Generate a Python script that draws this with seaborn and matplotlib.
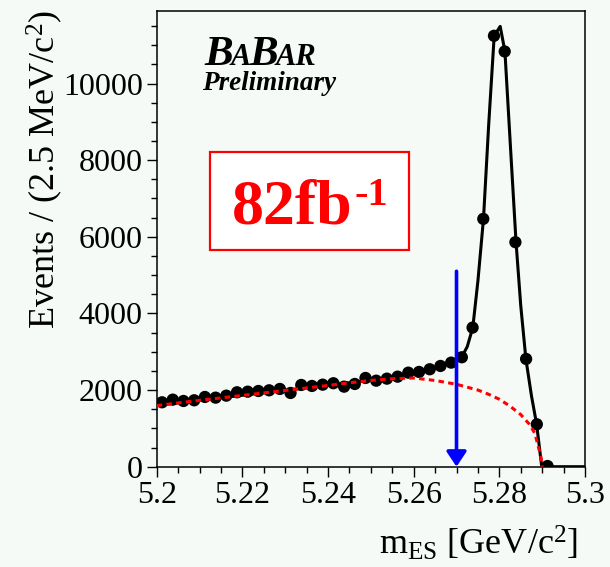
import matplotlib
matplotlib.use("Agg")
import matplotlib.pyplot as plt
from matplotlib.patches import Rectangle, ArrowStyle
from matplotlib.ticker import MultipleLocator
import pandas as pd
import seaborn as sns

# ---------------- data ----------------
bin_centers = [5.20125, 5.20375, 5.20625, 5.20875, 5.21125, 5.21375, 5.21625, 5.21875,
               5.22125, 5.22375, 5.22625, 5.22875, 5.23125, 5.23375, 5.23625, 5.23875,
               5.24125, 5.24375, 5.24625, 5.24875, 5.25125, 5.25375, 5.25625, 5.25875,
               5.26125, 5.26375, 5.26625, 5.26875, 5.27125, 5.27375, 5.27625, 5.27875,
               5.28125, 5.28375, 5.28625, 5.28875, 5.29125]
events = [1681, 1750, 1715, 1733, 1820, 1802, 1854, 1942,
          1958, 1976, 1994, 2029, 1924, 2133, 2107, 2141,
          2178, 2089, 2159, 2316, 2245, 2298, 2350, 2454,
          2473, 2543, 2629, 2716, 2856, 3630, 6467, 11245,
          10836, 5859, 2812, 1107, 18]

fit_x = [5.2000, 5.2100, 5.2200, 5.2300, 5.2400, 5.2500, 5.2550, 5.2600, 5.2625,
         5.2650, 5.2675, 5.2700, 5.2712, 5.2725, 5.2738, 5.2750, 5.2763, 5.2775,
         5.2788, 5.2802, 5.2813, 5.2826, 5.2839, 5.2850, 5.2862, 5.2875, 5.2887,
         5.2899, 5.3000]
fit_y = [1600, 1735, 1865, 1995, 2125, 2260, 2320, 2420, 2490,
         2580, 2670, 2790, 2860, 3130, 3630, 4850, 6470, 8900,
         11245, 11490, 10840, 8340, 5860, 4200, 2810, 1850, 1110,
         0, 0]

bkg_x = [5.2000, 5.2050, 5.2100, 5.2150, 5.2200, 5.2250, 5.2300, 5.2350, 5.2400,
         5.2450, 5.2500, 5.2550, 5.2600, 5.2650, 5.2700, 5.2725, 5.2750, 5.2775,
         5.2800, 5.2825, 5.2850, 5.2870, 5.2883, 5.2891, 5.2897, 5.2900]
bkg_y = [1595, 1665, 1730, 1795, 1860, 1925, 1990, 2055, 2120,
         2190, 2250, 2295, 2315, 2250, 2150, 2075, 2000, 1890,
         1760, 1580, 1360, 1110, 870, 520, 260, 0]

cut_value = 5.27
cut_top = 5100

x_ticks = [5.2, 5.22, 5.24, 5.26, 5.28, 5.3]
x_tick_labels = ["5.2", "5.22", "5.24", "5.26", "5.28", "5.3"]
y_ticks = [0, 2000, 4000, 6000, 8000, 10000]
y_tick_labels = ["0", "2000", "4000", "6000", "8000", "10000"]

# ---------------- style ----------------
W, H = 610, 567
BG = "#f5faf7"
sns.set_theme(style="white")
plt.rcParams["font.family"] = ["Liberation Serif", "DejaVu Serif"]
plt.rcParams["mathtext.fontset"] = "custom"
plt.rcParams["mathtext.rm"] = "Liberation Serif"
plt.rcParams["mathtext.it"] = "Liberation Serif:italic"
plt.rcParams["mathtext.bf"] = "Liberation Serif:bold"


def fpx(x, y):
    return x / W, 1 - y / H


fig = plt.figure(figsize=(W / 100, H / 100), dpi=100, facecolor=BG)
ax0, ax1, ay_top, ay_bot = 156.7, 585.0, 10.7, 466.7
ax = fig.add_axes([ax0 / W, 1 - ay_bot / H, (ax1 - ax0) / W, (ay_bot - ay_top) / H])
ax.set_facecolor(BG)

df_pts = pd.DataFrame({"m": bin_centers, "n": events})
df_fit = pd.DataFrame({"m": fit_x, "n": fit_y})
df_bkg = pd.DataFrame({"m": bkg_x, "n": bkg_y})

sns.lineplot(data=df_fit, x="m", y="n", ax=ax, color="black", lw=2.2,
             sort=False, estimator=None, zorder=3)
sns.scatterplot(data=df_pts, x="m", y="n", ax=ax, color="black", s=78,
                edgecolor="none", zorder=4)
sns.lineplot(data=df_bkg, x="m", y="n", ax=ax, color="#ff0000", lw=2.2,
             sort=False, estimator=None, zorder=5, dashes=False)
ax.lines[-1].set_linestyle((0, (1.8, 1.4)))

ax.annotate("", xy=(cut_value, 0), xytext=(cut_value, cut_top),
            arrowprops=dict(arrowstyle=ArrowStyle("-|>", head_length=0.6, head_width=0.4),
                            color="#0000ff", lw=2.6, mutation_scale=15,
                            shrinkA=0, shrinkB=0), zorder=6)

ax.set_xlim(5.2, 5.3)
ax.set_ylim(0, 11900)
ax.set_xticks(x_ticks)
ax.set_xticklabels(x_tick_labels)
ax.set_yticks(y_ticks)
ax.set_yticklabels(y_tick_labels)
ax.xaxis.set_minor_locator(MultipleLocator(0.005))
ax.yaxis.set_minor_locator(MultipleLocator(500))
ax.tick_params(which="major", direction="out", length=7, width=1, color="black",
               labelsize=23, pad=3, bottom=True, left=True, top=False, right=False,
               labelcolor="black")
ax.tick_params(which="minor", direction="out", length=4, width=1, color="black",
               bottom=True, left=True, top=False, right=False)
for s in ax.spines.values():
    s.set_visible(True)
    s.set_color("black")
    s.set_linewidth(1.1)

ax.set_xlabel(r"m$_{\mathrm{ES}}$ [GeV/c$^{2}$]", fontsize=26, loc="right", color="black")
ax.xaxis.label.set_va("baseline")
ax.xaxis.set_label_coords((578 - ax0) / (ax1 - ax0), (ay_bot - 555) / (ay_bot - ay_top))
ax.set_ylabel(r"Events / (2.5 MeV/c$^{2}$)", fontsize=26, loc="top", color="black")
ax.yaxis.set_label_coords((65 - ax0) / (ax1 - ax0), (ay_bot - 10) / (ay_bot - ay_top))

# ---------------- annotations ----------------
renderer = fig.canvas.get_renderer()


def chain(parts, x, y, **kw):
    for s, size, dy, gap in parts:
        t = fig.text(*fpx(x, y + dy), s, fontsize=size, va="baseline", ha="left", **kw)
        bb = t.get_window_extent(renderer)
        x = bb.x1 + gap


chain([("B", 31, 0, -2), ("A", 22, 0, -2), ("B", 31, 0, -2), ("AR", 22, 0, 0)],
      204, 65, fontweight="bold", fontstyle="italic", color="black")
fig.text(*fpx(202, 90), "Preliminary", fontsize=19.5, fontweight="bold",
         fontstyle="italic", va="baseline", ha="left", color="black")

box = Rectangle(fpx(210, 250), (409 - 210) / W, (250 - 151.7) / H,
                transform=fig.transFigure, facecolor="white", edgecolor="#ff0000",
                lw=1.6, zorder=2)
fig.patches.append(box)
chain([("82fb", 46, 0, 2), ("-1", 29, -19, 0)], 232, 224,
      fontweight="bold", color="#ff0000", zorder=3)

fig.savefig("out.png", dpi=100, facecolor=BG)
